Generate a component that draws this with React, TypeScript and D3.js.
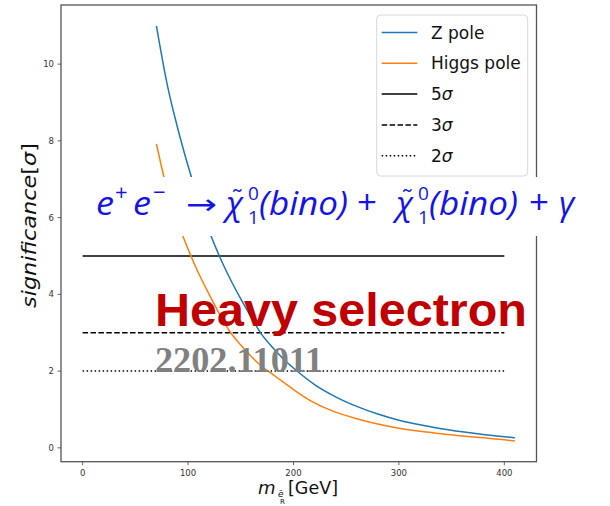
import React from "react";
import * as d3 from "d3";

const massZ = [70, 80, 90, 100, 110, 120, 130, 140, 150, 160, 170, 180, 190, 200, 220, 240, 260, 280, 300, 320, 340, 360, 380, 400, 410];
const sigZ = [11.0, 9.5, 8.35, 7.35, 6.45, 5.65, 4.98, 4.4, 3.88, 3.4, 2.95, 2.62, 2.33, 2.08, 1.65, 1.33, 1.08, 0.88, 0.72, 0.6, 0.5, 0.42, 0.35, 0.29, 0.26];
const massH = [70, 80, 90, 100, 110, 120, 130, 140, 150, 160, 170, 180, 190, 200, 220, 240, 260, 280, 300, 320, 340, 360, 380, 400, 410];
const sigH = [7.92, 6.75, 5.9, 5.18, 4.55, 4.0, 3.48, 3.02, 2.68, 2.38, 2.12, 1.92, 1.72, 1.52, 1.17, 0.93, 0.76, 0.62, 0.51, 0.43, 0.37, 0.31, 0.26, 0.21, 0.18];
const refLevels = [5, 3, 2];
const refLabels = ["5σ", "3σ", "2σ"];
const refRange = [0, 400];
const xTicks = [0, 100, 200, 300, 400];
const yTicks = [0, 2, 4, 6, 8, 10];
const seriesNames = ["Z pole", "Higgs pole"];
const seriesColors = ["#1f77b4", "#ff7f0e"];

const W = 610, H = 506;
const L = 61, R = 536.5, T = 5, B = 461.7;

export default function App() {
  const xmin = 0, xmax = 410;
  const xm = (xmax - xmin) * 0.05;
  const allY = [...sigZ, ...sigH, ...refLevels];
  const ymin = d3.min(allY)!, ymax = d3.max(allY)!;
  const ym = (ymax - ymin) * 0.05;
  const x = d3.scaleLinear().domain([xmin - xm, xmax + xm]).range([L, R]);
  const y = d3.scaleLinear().domain([ymin - ym, ymax + ym]).range([B, T]);
  const line = d3.line<[number, number]>().x(d => x(d[0])).y(d => y(d[1])).curve(d3.curveMonotoneX);
  const zPts = massZ.map((m, i) => [m, sigZ[i]] as [number, number]);
  const hPts = massH.map((m, i) => [m, sigH[i]] as [number, number]);
  const dashes = [null, "5.5,2.4", "1.5,2.5"];
  const tickFont = "DejaVu Sans, sans-serif";
  const blue = "#1414e6";
  const legRows = [...seriesNames, ...refLabels];
  const legY = (i: number) => 32.5 + i * 30.8;

  return (
    <svg width={W} height={H} style={{ position: "absolute", left: 0, top: 0, background: "#fff" }}>
      <rect x={0} y={0} width={W} height={H} fill="#fff" />
      {refLevels.map((lv, i) => (
        <line key={lv} x1={x(refRange[0])} x2={x(refRange[1])} y1={y(lv)} y2={y(lv)}
          stroke="#000" strokeWidth={1.5} strokeDasharray={dashes[i] || undefined} />
      ))}
      <path d={line(zPts)!} fill="none" stroke={seriesColors[0]} strokeWidth={1.5} />
      <path d={line(hPts)!} fill="none" stroke={seriesColors[1]} strokeWidth={1.5} />
      <rect x={L} y={T} width={R - L} height={B - T} fill="none" stroke="#555" strokeWidth={1.3} />
      {xTicks.map(t => (
        <g key={"x" + t}>
          <line x1={x(t)} x2={x(t)} y1={B} y2={B + 3.5} stroke="#555" strokeWidth={0.9} />
          <text x={x(t)} y={473} textAnchor="middle" dominantBaseline="central" fontFamily={tickFont} fontSize={8.5} fill="#333">{t}</text>
        </g>
      ))}
      {yTicks.map(t => (
        <g key={"y" + t}>
          <line x1={L - 3.5} x2={L} y1={y(t)} y2={y(t)} stroke="#555" strokeWidth={0.9} />
          <text x={54} y={y(t)} textAnchor="end" dominantBaseline="central" fontFamily={tickFont} fontSize={8.5} fill="#333">{t}</text>
        </g>
      ))}
      <g fontFamily={tickFont} fill="#111">
        <text x={258} y={494} fontSize={18} fontStyle="italic">m</text>
        <text x={278} y={497} fontSize={9} fontStyle="italic">ẽ</text>
        <text x={280} y={504} fontSize={7}>R</text>
        <text x={288} y={494} fontSize={17.5} textLength={50} lengthAdjust="spacingAndGlyphs">[GeV]</text>
        <text transform="translate(36,308) rotate(-90)" fontSize={19} textLength={165} lengthAdjust="spacingAndGlyphs">
          <tspan fontStyle="italic">significance</tspan><tspan>[</tspan><tspan fontStyle="italic">σ</tspan><tspan>]</tspan>
        </text>
      </g>
      <rect x={376.7} y={15} width={151} height={161} rx={4} fill="#fff" fillOpacity={0.85} stroke="#d8d8d8" strokeWidth={1} />
      {legRows.map((lab, i) => {
        const isSeries = i < seriesNames.length;
        const col = isSeries ? seriesColors[i] : "#000";
        const da = isSeries ? undefined : (dashes[i - seriesNames.length] || undefined);
        return (
          <g key={lab}>
            <line x1={381.7} x2={417.3} y1={legY(i)} y2={legY(i)} stroke={col} strokeWidth={1.5} strokeDasharray={da} />
            <text x={431} y={legY(i)} dominantBaseline="central" fontFamily={tickFont} fontSize={17} fill="#111">
              {isSeries ? lab : (<><tspan>{lab[0]}</tspan><tspan fontStyle="italic">{lab.slice(1)}</tspan></>)}
            </text>
          </g>
        );
      })}
      <rect x={85} y={177} width={525} height={59} fill="#fff" />
      <g fill={blue} fontFamily="'Open Sans', sans-serif">
        <text x={96} y={215} fontSize={33} fontStyle="italic" textLength={18} lengthAdjust="spacingAndGlyphs">e</text>
        <text x={115} y={200} fontSize={22}>+</text>
        <text x={133} y={215} fontSize={33} fontStyle="italic" textLength={18} lengthAdjust="spacingAndGlyphs">e</text>
        <text x={153} y={200} fontSize={22}>−</text>
        <text x={186} y={214} fontSize={28} fontFamily="DejaVu Sans" textLength={31} lengthAdjust="spacingAndGlyphs">→</text>
        <text x={226} y={215} fontSize={33} fontStyle="italic">χ</text>
        <text x={232} y={207} fontSize={24}>˜</text>
        <text x={248} y={200} fontSize={19}>0</text>
        <text x={248} y={224} fontSize={19}>1</text>
        <text x={259} y={215} fontSize={32} fontStyle="italic" textLength={89} lengthAdjust="spacingAndGlyphs">(bino)</text>
        <text x={357} y={214} fontSize={32} textLength={20} lengthAdjust="spacingAndGlyphs">+</text>
        <text x={396} y={215} fontSize={33} fontStyle="italic">χ</text>
        <text x={402} y={207} fontSize={24}>˜</text>
        <text x={418} y={200} fontSize={19}>0</text>
        <text x={418} y={224} fontSize={19}>1</text>
        <text x={429} y={215} fontSize={32} fontStyle="italic" textLength={89} lengthAdjust="spacingAndGlyphs">(bino)</text>
        <text x={529} y={214} fontSize={32} textLength={20} lengthAdjust="spacingAndGlyphs">+</text>
        <text x={559} y={215} fontSize={33} fontStyle="italic">γ</text>
      </g>
      <text x={155} y={325.7} fontFamily="'Liberation Sans', Arial, sans-serif" fontWeight="bold" fontSize={46} fill="#c00000" textLength={372} lengthAdjust="spacingAndGlyphs">Heavy selectron</text>
      <text x={155} y={371.7} fontFamily="'Liberation Serif', 'Times New Roman', serif" fontWeight="bold" fontSize={36} fill="#808080" textLength={168} lengthAdjust="spacingAndGlyphs">2202.11011</text>
    </svg>
  );
}
